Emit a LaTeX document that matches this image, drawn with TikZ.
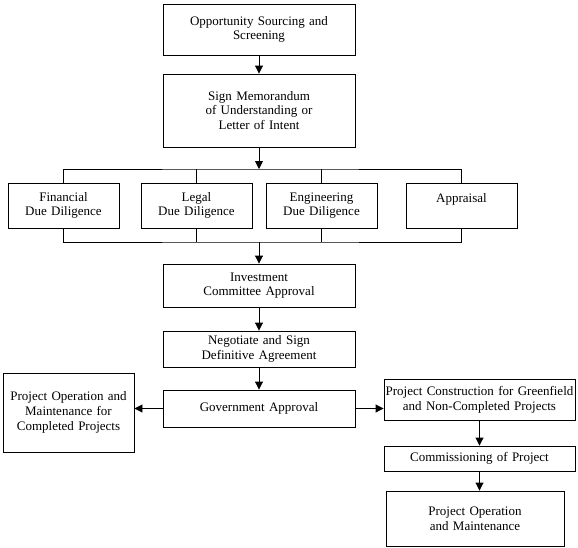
\documentclass[tikz,border=0pt]{standalone}
\usepackage{fontspec}
\setmainfont{Liberation Serif}
\usetikzlibrary{arrows.meta}

\begin{document}
\begin{tikzpicture}[x=1pt, y=-1pt,
      stage/.style ={draw, line width=0.9pt, align=center, inner sep=0pt,
                     font=\fontsize{13}{14.7}\selectfont},
      mainstage/.style ={stage, minimum width=192, text width=186},
      check/.style ={stage, minimum width=111, minimum height=45, text width=108},
      flow/.style ={line width=0.9pt, -{Triangle[length=8pt, width=8pt]}},
      link/.style ={line width=0.9pt}]

   \useasboundingbox (0,0) rectangle (578,547);

   \node[mainstage, minimum height=51] (opp) at (259,29.5) {Opportunity Sourcing and\\ Screening};
   \node[mainstage, minimum height=73] (mou) at (259,110.5) {Sign Memorandum\\ of Understanding or\\ Letter of Intent};

   \node[check] (fin) at (63.5,205.5)  {Financial\\ Due Diligence};
   \node[check] (leg) at (196.5,205.5) {Legal\\ Due Diligence};
   \node[check] (eng) at (321.5,205.5) {Engineering\\ Due Diligence};
   \node[check] (app) at (461.5,205.5) {Appraisal\\ \mbox{}};

   \node[mainstage, minimum height=43] (inv) at (259,285.5) {Investment\\ Committee Approval};
   \node[mainstage, minimum height=36] (neg) at (259,349)   {Negotiate and Sign\\ Definitive Agreement};
   \node[mainstage, minimum height=37] (gov) at (259,408.5) {Government Approval};

   \node[stage, minimum width=131, minimum height=79, text width=128] (ops) at (68.5,412.5)
      {Project Operation and\\ Maintenance for\\ Completed Projects};
   \node[stage, minimum width=191, minimum height=41, text width=190] (con) at (479.5,399.5)
      {Project Construction for Greenfield\\ and Non-Completed Projects};
   \node[stage, minimum width=191, minimum height=25, text width=188] (com) at (479.5,458.5)
      {Commissioning of Project};
   \node[stage, minimum width=178, minimum height=55, text width=175] (fop) at (475,518.5)
      {Project Operation\\ and Maintenance};

   \coordinate (split) at (259,169);
   \coordinate (merge) at (259,242);

   \draw[flow] (opp) to (mou);
   \draw[flow] (mou) to (split);

   % due diligence branches
   \draw[link] (fin.north) |- (split) -| (app.north);
   \draw[link] (leg.north) to (leg.north |- split);
   \draw[link] (eng.north) to (eng.north |- split);
   \draw[link] (fin.south) |- (merge) -| (app.south);
   \draw[link] (leg.south) to (leg.south |- merge);
   \draw[link] (eng.south) to (eng.south |- merge);
   \draw[flow] (merge) to (inv);

   \draw[flow] (inv) to (neg);
   \draw[flow] (neg) to (gov);
   \draw[flow] (gov.west) to (gov.west -| ops.east);
   \draw[flow] (gov.east) to (gov.east -| con.west);
   \draw[flow] (con) to (com);
   \draw[flow] (com.south) to (com.south |- fop.north);

 \end{tikzpicture}
\end{document}
